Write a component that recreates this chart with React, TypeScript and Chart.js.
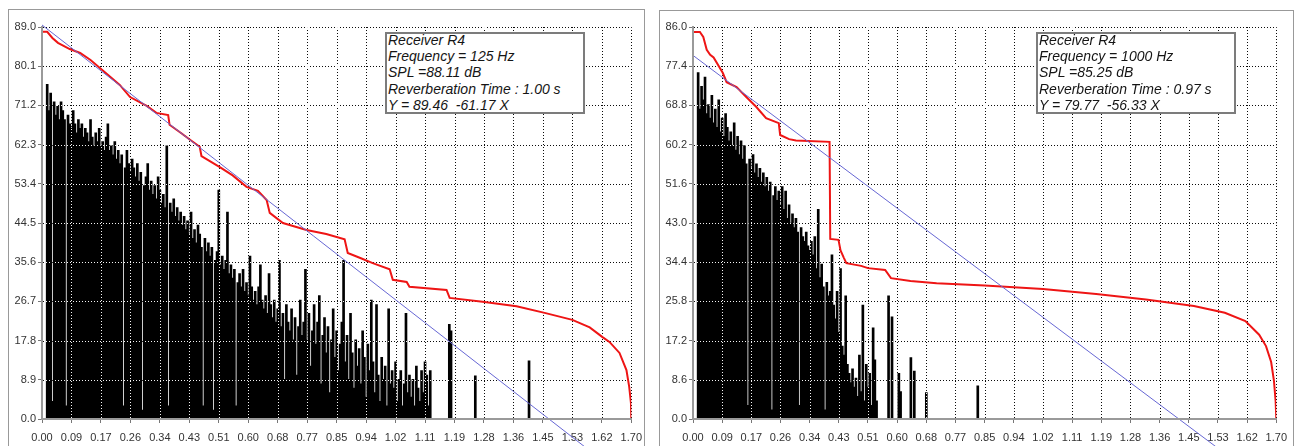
import React, { useEffect, useRef } from "react";
import { Chart, registerables } from "chart.js";
Chart.register(...registerables);

const FONT = '"Liberation Sans", Arial, sans-serif';

// ---- shared x axis (seconds) ----
const xTickValues = [0, 0.085, 0.17, 0.255, 0.34, 0.425, 0.51, 0.595, 0.68, 0.765, 0.85, 0.935, 1.02, 1.105, 1.19, 1.275, 1.36, 1.445, 1.53, 1.615, 1.7];
const xTickLabels = ["0.00", "0.09", "0.17", "0.26", "0.34", "0.43", "0.51", "0.60", "0.68", "0.77", "0.85", "0.94", "1.02", "1.11", "1.19", "1.28", "1.36", "1.45", "1.53", "1.62", "1.70"];

// ---- left panel (125 Hz) ----
const leftYTicks = [0, 8.9, 17.8, 26.7, 35.6, 44.5, 53.4, 62.3, 71.2, 80.1, 89.0];
const leftYLabels = ["0.0", "8.9", "17.8", "26.7", "35.6", "44.5", "53.4", "62.3", "71.2", "80.1", "89.0"];
const leftInfo = ["Receiver R4", "Frequency = 125 Hz", "SPL =88.11 dB", "Reverberation Time : 1.00 s", "Y = 89.46  -61.17 X"];
const leftReg = [89.46, -61.17];
const leftImpulseStart = 0.015;
const leftImpulseStep = 0.005;
const leftImpulse = [
  76, 70, 74, 4, 72, 69, 71, 68, 72, 70,
  68, 3, 69, 67, 66, 70, 67, 65, 68, 66,
  67, 64, 66, 65, 63, 68, 64, 62, 65, 63,
  66, 62, 63, 61, 64, 67, 61, 62, 60, 63,
  59, 61, 58, 60, 3, 57, 61, 58, 56, 59,
  57, 55, 58, 54, 56, 2, 53, 55, 58, 52,
  54, 51, 53, 50, 55, 52, 49, 51, 48, 62,
  3, 49, 47, 50, 46, 48, 45, 47, 44, 46,
  43, 45, 42, 47, 41, 43, 40, 44, 42, 39,
  3, 41, 38, 40, 37, 39, 2, 36, 38, 52,
  35, 37, 34, 36, 47, 33, 35, 32, 34, 3,
  31, 33, 30, 34, 29, 31, 28, 37, 30, 27,
  29, 26, 30, 35, 27, 25, 28, 24, 33, 26,
  23, 27, 22, 25, 36, 21, 24, 9, 26, 22,
  20, 25, 18, 23, 10, 21, 27, 19, 22, 34,
  18, 24, 12, 20, 26, 17, 22, 28, 8, 19,
  23, 15, 21, 6, 18, 25, 14, 20, 11, 17,
  22, 36, 13, 19, 9, 24, 15, 7, 18, 12,
  16, 8, 20, 14, 5, 17, 11, 27, 13, 6,
  26, 10, 4, 14, 9, 12, 3, 25, 8, 11,
  7, 13, 4, 9, 11, 3, 8, 24, 6, 10,
  5, 9, 3, 12, 7, 4, 11, 6, 13, 10, 3, 11,
];
const leftSparseTimes = [1.175, 1.18, 1.25, 1.405];
const leftSparseValues = [21.5, 20, 9.8, 13.2];
const leftDecayTimes = [0, 0.015, 0.03, 0.046, 0.08, 0.11, 0.14, 0.167, 0.2, 0.225, 0.254, 0.302, 0.33, 0.364, 0.368, 0.4, 0.427, 0.455, 0.46, 0.513, 0.55, 0.59, 0.623, 0.648, 0.657, 0.695, 0.763, 0.82, 0.873, 0.882, 0.92, 0.954, 1.003, 1.012, 1.052, 1.06, 1.167, 1.176, 1.271, 1.369, 1.45, 1.53, 1.58, 1.617, 1.637, 1.666, 1.686, 1.694, 1.699, 1.7];
const leftDecayLevels = [87.9, 87.9, 86.5, 85.4, 84, 83.1, 81.5, 79.7, 77.5, 75.8, 73.1, 71.1, 69.5, 69, 66.8, 65, 63.4, 61.8, 59.7, 57.2, 55.3, 52.7, 51.8, 49.7, 46.8, 44.5, 42.9, 42, 40.8, 37.7, 36.5, 35.4, 34, 31.6, 31.1, 30, 29.3, 27.5, 26.6, 25.6, 24.1, 22.5, 20.8, 18.6, 17.5, 15, 11.1, 7.3, 3.6, 0];

// ---- right panel (1000 Hz) ----
const rightYTicks = [0, 8.6, 17.2, 25.8, 34.4, 43.0, 51.6, 60.2, 68.8, 77.4, 86.0];
const rightYLabels = ["0.0", "8.6", "17.2", "25.8", "34.4", "43.0", "51.6", "60.2", "68.8", "77.4", "86.0"];
const rightInfo = ["Receiver R4", "Frequency = 1000 Hz", "SPL =85.25 dB", "Reverberation Time : 0.97 s", "Y = 79.77  -56.33 X"];
const rightReg = [79.77, -56.33];
const rightImpulseStart = 0.015;
const rightImpulseStep = 0.005;
const rightImpulse = [
  76, 68, 73, 70, 75, 67, 69, 66, 71, 65,
  68, 64, 70, 63, 66, 62, 67, 64, 61, 63,
  60, 65, 59, 62, 58, 61, 57, 60, 56, 3,
  57, 55, 58, 54, 56, 53, 55, 52, 54, 51,
  53, 50, 52, 2, 49, 51, 48, 50, 47, 51,
  46, 50, 44, 47, 43, 45, 42, 44, 41, 3,
  42, 40, 39, 41, 38, 37, 39, 36, 40, 33,
  46, 31, 34, 29, 2, 30, 27, 28, 36, 25,
  22, 28, 19, 33, 16, 14, 27, 12, 10, 8,
  11, 7, 9, 5, 14, 6, 25, 4, 12, 7,
  10, 3, 20, 13, 4, 0,
];
const rightSparseTimes = [0.57, 0.58, 0.6, 0.605, 0.635, 0.645, 0.68, 0.83];
const rightSparseValues = [27, 22.4, 10, 6, 13.5, 10.5, 5.8, 7.3];
const rightDecayTimes = [0, 0.02, 0.03, 0.04, 0.05, 0.06, 0.087, 0.098, 0.127, 0.156, 0.184, 0.213, 0.25, 0.254, 0.28, 0.3, 0.398, 0.4, 0.424, 0.43, 0.44, 0.447, 0.49, 0.51, 0.56, 0.577, 0.634, 0.71, 0.85, 1.02, 1.175, 1.32, 1.46, 1.55, 1.61, 1.65, 1.67, 1.685, 1.693, 1.698, 1.7];
const rightDecayLevels = [84.9, 84.9, 83.8, 81, 79.9, 79.3, 75.9, 73.9, 72.8, 70.6, 68.5, 66, 64.9, 62.3, 61.4, 61.1, 60.8, 39.5, 39.3, 37, 35.3, 34.2, 33.6, 33.1, 32.7, 30.9, 30.3, 29.8, 29.3, 28.5, 27.4, 26.2, 24.8, 23.3, 21.5, 18.5, 16, 12.5, 8.5, 4, 0];

const bgPlugin = {
  id: "bgWhite",
  beforeDraw(chart: any) {
    const ctx = chart.ctx;
    ctx.save();
    ctx.fillStyle = "#ffffff";
    ctx.fillRect(0, 0, chart.width, chart.height);
    ctx.restore();
  },
};

// dotted grid drawn in "difference" mode right after the bars (white dots on black, dark dots on white)
const xorGridPlugin = {
  id: "xorGrid",
  afterDatasetDraw(chart: any, args: any) {
    if (args.index !== 2) return;
    const { ctx, chartArea: a, scales } = chart;
    const xs = scales.x;
    const ys = scales.y;
    ctx.save();
    ctx.globalCompositeOperation = "difference";
    ctx.strokeStyle = "#f4f4f4";
    ctx.lineWidth = 1;
    ctx.setLineDash([1, 2]);
    xs.ticks.forEach((t: any) => {
      if (t.value === 0) return;
      const px = Math.round(xs.getPixelForValue(t.value)) + 0.5;
      ctx.beginPath();
      ctx.moveTo(px, a.top);
      ctx.lineTo(px, a.bottom - 1);
      ctx.stroke();
    });
    ys.ticks.forEach((t: any) => {
      if (t.value === 0) return;
      const py = Math.round(ys.getPixelForValue(t.value)) + 0.5;
      ctx.beginPath();
      ctx.moveTo(a.left + 1, py);
      ctx.lineTo(a.right, py);
      ctx.stroke();
    });
    ctx.restore();
  },
};

type PanelProps = {
  left: number;
  width: number;
  axisWidth: number;
  padRight: number;
  yTicks: number[];
  yLabels: string[];
  impulseStart: number;
  impulseStep: number;
  impulse: number[];
  sparseTimes: number[];
  sparseValues: number[];
  decayTimes: number[];
  decayLevels: number[];
  reg: number[];
};

function DecayPanel(p: PanelProps) {
  const ref = useRef<HTMLCanvasElement | null>(null);
  useEffect(() => {
    if (!ref.current) return;
    const bars = p.impulse
      .map((v, i) => ({ x: p.impulseStart + i * p.impulseStep, y: v }))
      .concat(p.sparseTimes.map((t, i) => ({ x: t, y: p.sparseValues[i] })));
    const decay = p.decayTimes.map((t, i) => ({ x: t, y: p.decayLevels[i] }));
    const xEnd = xTickValues[xTickValues.length - 1];
    const regLine = [
      { x: 0, y: p.reg[0] },
      { x: xEnd, y: p.reg[0] + p.reg[1] * xEnd },
    ];
    const yMax = p.yTicks[p.yTicks.length - 1];
    const chart = new Chart(ref.current, {
      type: "bar",
      data: {
        datasets: [
          {
            type: "line",
            label: "regression",
            data: regLine,
            borderColor: "#6767d4",
            borderWidth: 1,
            pointRadius: 0,
            clip: false,
            order: 1,
          } as any,
          {
            type: "line",
            label: "decay",
            data: decay,
            borderColor: "#ee1515",
            borderWidth: 2,
            pointRadius: 0,
            tension: 0,
            order: 2,
          } as any,
          {
            type: "bar",
            label: "impulse",
            data: bars,
            backgroundColor: "#000000",
            borderWidth: 0,
            barThickness: 2,
            grouped: false,
            order: 3,
          } as any,
        ],
      },
      options: {
        animation: false,
        responsive: false,
        events: [],
        layout: { padding: { left: 0, top: 27, right: p.padRight, bottom: 0 } },
        plugins: { legend: { display: false }, tooltip: { enabled: false }, title: { display: false } },
        scales: {
          x: {
            type: "linear",
            min: 0,
            max: xEnd,
            offset: false,
            afterBuildTicks: (s: any) => {
              s.ticks = xTickValues.map((v) => ({ value: v }));
            },
            afterFit: (s: any) => {
              s.height = 27;
            },
            ticks: {
              autoSkip: false,
              maxRotation: 0,
              minRotation: 0,
              padding: 8,
              color: "#333",
              font: { family: FONT, size: 11 },
              callback: (_v: any, i: number) => xTickLabels[i],
            },
            grid: { display: true, drawOnChartArea: false, drawTicks: true, tickLength: 4, tickColor: "#777", offset: false },
            border: { display: true, color: "#9a9a9a", width: 2, z: 1 },
          },
          y: {
            type: "linear",
            min: 0,
            max: yMax,
            afterBuildTicks: (s: any) => {
              s.ticks = p.yTicks.map((v) => ({ value: v }));
            },
            afterFit: (s: any) => {
              s.width = p.axisWidth;
            },
            ticks: {
              autoSkip: false,
              padding: 2,
              color: "#333",
              font: { family: FONT, size: 11 },
              callback: (_v: any, i: number) => p.yLabels[i],
            },
            grid: { display: true, drawOnChartArea: false, drawTicks: true, tickLength: 4, tickColor: "#777" },
            border: { display: true, color: "#9a9a9a", width: 2, z: 1 },
          },
        },
      } as any,
      plugins: [bgPlugin, xorGridPlugin],
    });
    return () => chart.destroy();
  }, []);
  return (
    <canvas
      ref={ref}
      width={p.width}
      height={446}
      style={{ position: "absolute", left: p.left, top: 0, width: p.width, height: 446 }}
    />
  );
}

function InfoBox({ left, top, lines }: { left: number; top: number; lines: string[] }) {
  return (
    <div
      style={{
        position: "absolute",
        left,
        top,
        width: 200,
        height: 82,
        boxSizing: "border-box",
        border: "2px solid #7c7c7c",
        background: "#fff",
        fontFamily: FONT,
        fontStyle: "italic",
        fontSize: 14,
        lineHeight: "16.2px",
        color: "#151515",
        whiteSpace: "pre",
        overflow: "hidden",
      }}
    >
      <div style={{ position: "absolute", left: 1, top: -2 }}>
        {lines.map((l, i) => (
          <div key={i}>{l}</div>
        ))}
      </div>
    </div>
  );
}

export default function App() {
  return (
    <div style={{ position: "fixed", left: 0, top: 0, width: 1295, height: 446, background: "#fff", overflow: "hidden" }}>
      <DecayPanel
        left={0}
        width={650}
        axisWidth={42}
        padRight={18}
        yTicks={leftYTicks}
        yLabels={leftYLabels}
        impulseStart={leftImpulseStart}
        impulseStep={leftImpulseStep}
        impulse={leftImpulse}
        sparseTimes={leftSparseTimes}
        sparseValues={leftSparseValues}
        decayTimes={leftDecayTimes}
        decayLevels={leftDecayLevels}
        reg={leftReg}
      />
      <DecayPanel
        left={650}
        width={645}
        axisWidth={43}
        padRight={12}
        yTicks={rightYTicks}
        yLabels={rightYLabels}
        impulseStart={rightImpulseStart}
        impulseStep={rightImpulseStep}
        impulse={rightImpulse}
        sparseTimes={rightSparseTimes}
        sparseValues={rightSparseValues}
        decayTimes={rightDecayTimes}
        decayLevels={rightDecayLevels}
        reg={rightReg}
      />
      <div style={{ position: "absolute", left: 8, top: 9, width: 637, height: 460, border: "1px solid #999", boxSizing: "border-box", pointerEvents: "none" }} />
      <div style={{ position: "absolute", left: 659, top: 10, width: 635, height: 460, border: "1px solid #999", boxSizing: "border-box", pointerEvents: "none" }} />
      <InfoBox left={385} top={32} lines={leftInfo} />
      <InfoBox left={1036} top={32} lines={rightInfo} />
    </div>
  );
}
